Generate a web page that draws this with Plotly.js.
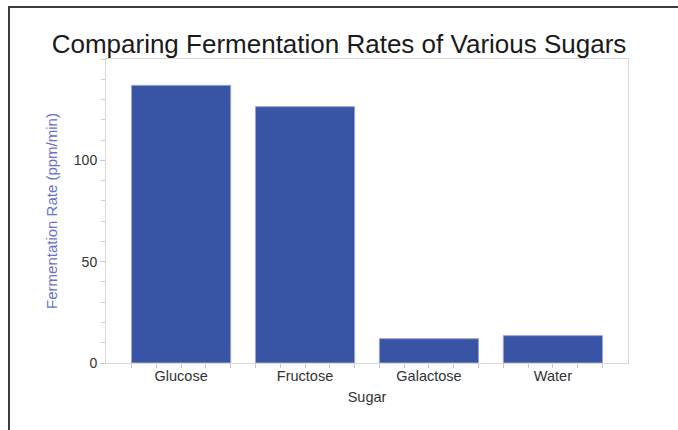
<!DOCTYPE html>
<html>
<head>
<meta charset="utf-8">
<script src="https://cdn.plot.ly/plotly-3.0.1.min.js"></script>
<style>
  html, body { margin:0; padding:0; background:#fff; overflow:hidden; }
  #wrap { position:relative; width:678px; height:430px; overflow:hidden; }
  #chart { width:678px; height:430px; }
  #hline { position:absolute; left:8px; top:6px; width:700px; height:2px; background:#3c3c3c; pointer-events:none; }
  #vline { position:absolute; left:8px; top:6px; width:2px; height:450px; background:#3c3c3c; pointer-events:none; }
</style>
</head>
<body>
<div id="wrap">
  <div id="chart"></div>
  <div id="hline"></div>
  <div id="vline"></div>
</div>
<script>
const categories = ['Glucose', 'Fructose', 'Galactose', 'Water'];
const rates = [137, 126.5, 12, 13.5];
const yTickVals = [0, 50, 100];

const xRange = [-0.606, 3.606];
const subTicks = [];
categories.forEach((c, i) => { [-0.4, -0.2, 0, 0.2, 0.4].forEach(d => subTicks.push(i + d)); });

const traces = [{
  type: 'bar',
  x: categories.map((c, i) => i),
  y: rates,
  marker: { color: '#3953a5', line: { color: '#9aa5dc', width: 1 } },
  width: 0.8,
  hoverinfo: 'x+y'
}, {
  type: 'scatter', x: [0], y: [0], xaxis: 'x2', mode: 'markers',
  marker: { opacity: 0 }, hoverinfo: 'skip', showlegend: false
}];

const layout = {
  width: 678, height: 430,
  margin: { l: 106, r: 50, t: 59, b: 67 },
  paper_bgcolor: '#fff', plot_bgcolor: '#fff',
  showlegend: false,
  font: { family: 'Liberation Sans, Arial, sans-serif', color: '#333' },
  title: {
    text: 'Comparing Fermentation Rates of Various Sugars',
    font: { size: 26, color: '#1a1a1a', family: 'Liberation Sans, Arial, sans-serif' },
    x: 0.5, xanchor: 'center', y: 0.897, yanchor: 'middle'
  },
  xaxis: {
    range: xRange,
    tickmode: 'array',
    tickvals: categories.map((c, i) => i),
    ticktext: categories,
    ticks: '',
    tickfont: { size: 14.5, color: '#333' },
    showgrid: false, zeroline: false,
    showline: true, linecolor: '#d9d9d9', linewidth: 1, mirror: true,
    title: { text: 'Sugar', font: { size: 14.5, color: '#333' }, standoff: 8 },
    fixedrange: true
  },
  xaxis2: {
    overlaying: 'x', range: xRange,
    tickmode: 'array', tickvals: subTicks, ticks: 'outside', ticklen: 4,
    tickcolor: '#c8c8c8', tickwidth: 1, showticklabels: false,
    showgrid: false, zeroline: false, showline: false, side: 'bottom'
  },
  yaxis: {
    range: [0, 150],
    tickmode: 'array', tickvals: yTickVals,
    ticks: 'outside', ticklen: 5, tickcolor: '#c8c8c8',
    minor: { dtick: 10, ticks: 'outside', ticklen: 4, tickcolor: '#d0d0d0', showgrid: false },
    tickfont: { size: 14, color: '#333' },
    showgrid: false, zeroline: false,
    showline: true, linecolor: '#d9d9d9', linewidth: 1, mirror: true,
    title: { text: 'Fermentation Rate (ppm/min)', font: { size: 15, color: '#6a70cf' }, standoff: 12 },
    fixedrange: true
  },
  bargap: 0.2
};

Plotly.newPlot('chart', traces, layout, { displayModeBar: false, staticPlot: true });
</script>
</body>
</html>
